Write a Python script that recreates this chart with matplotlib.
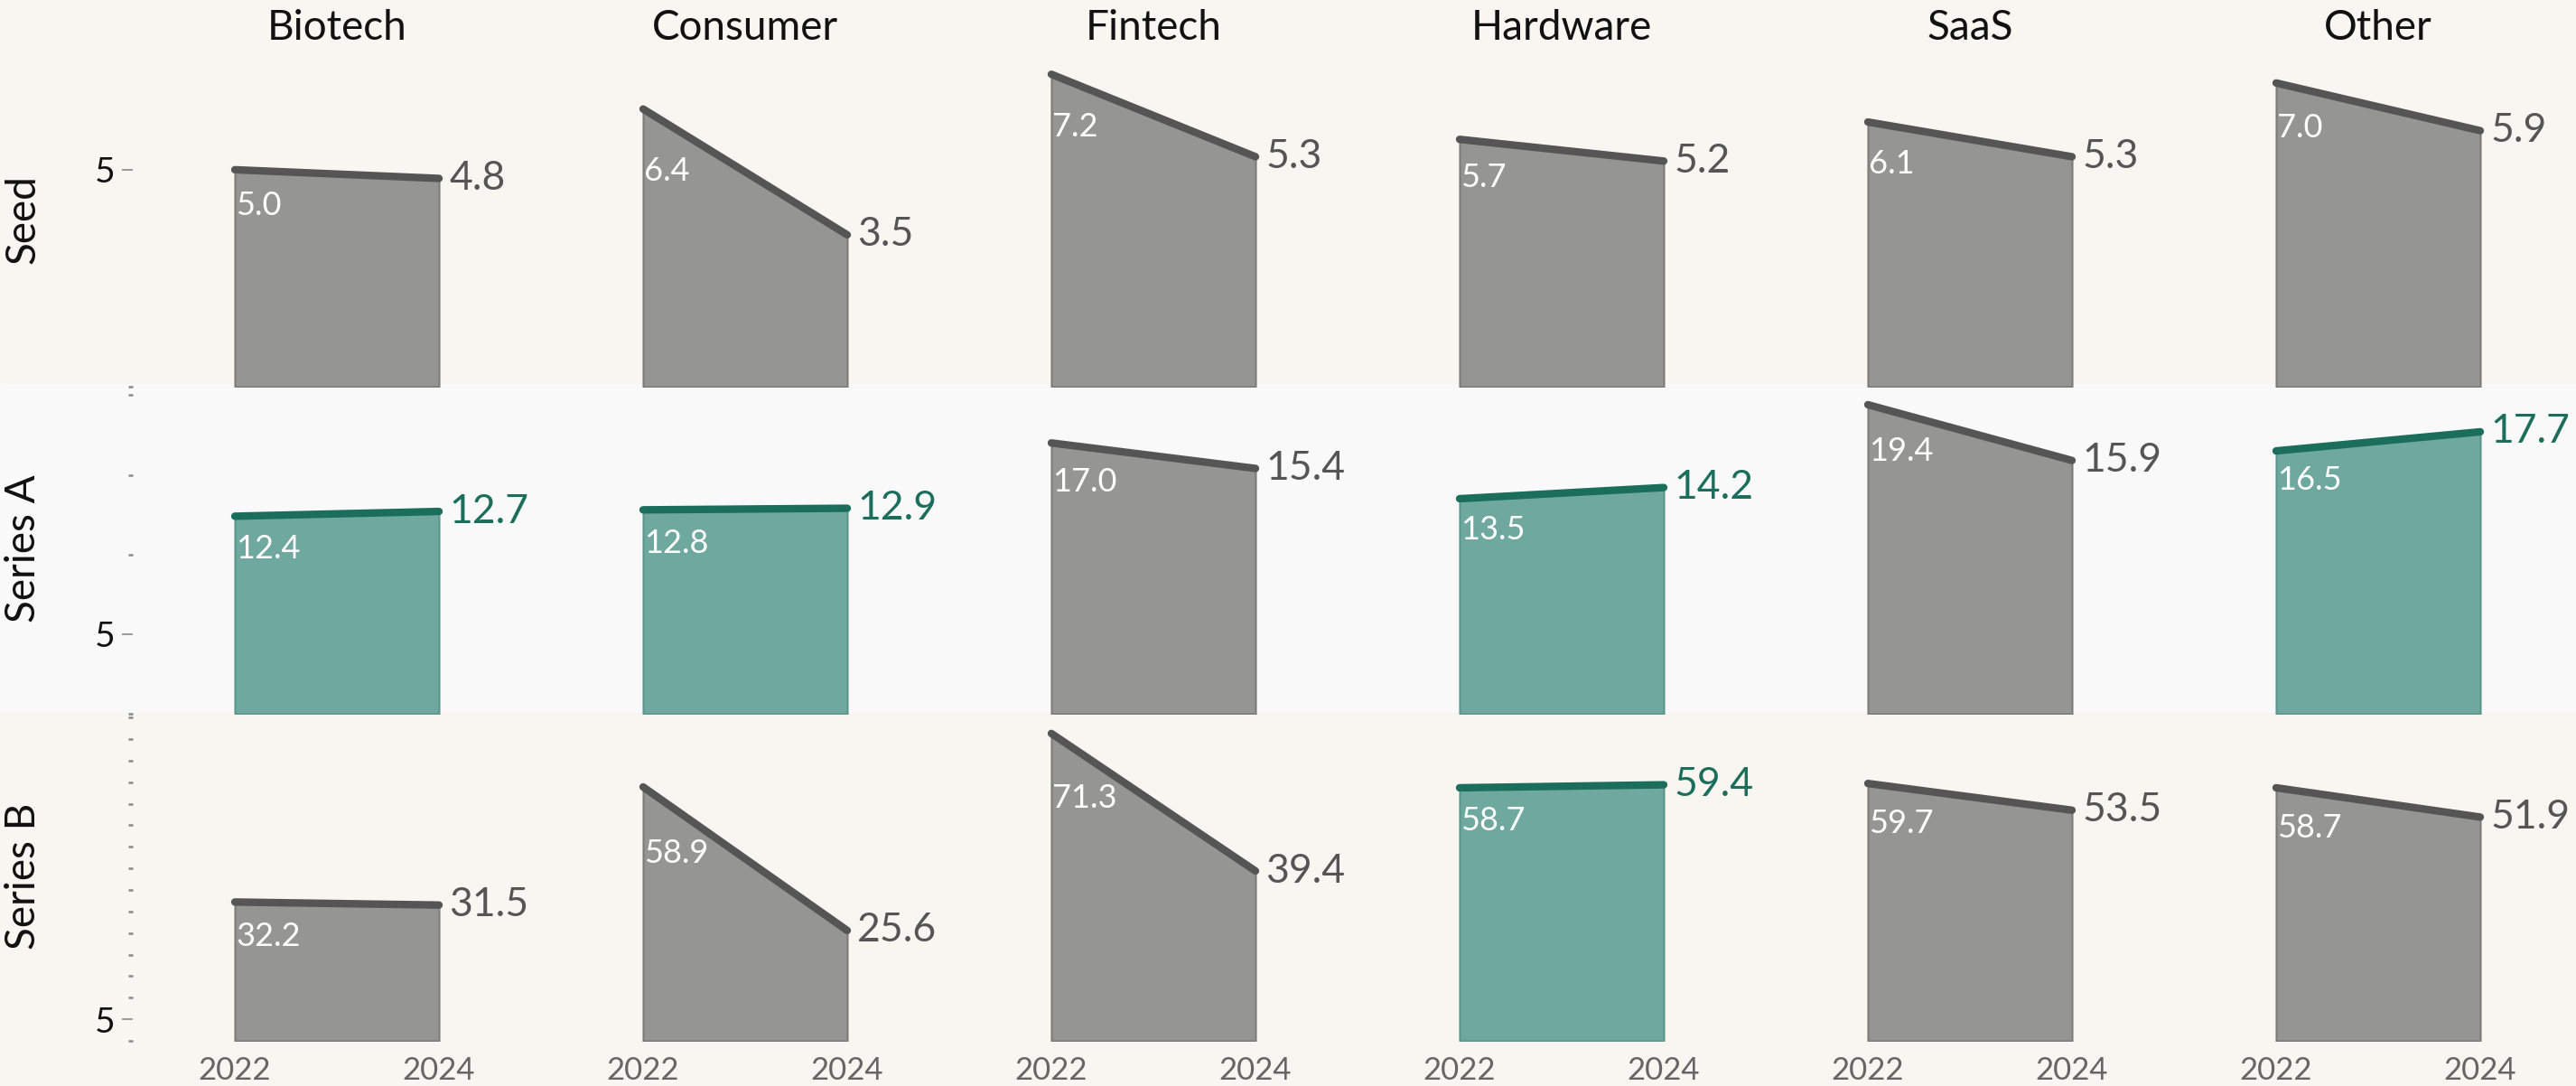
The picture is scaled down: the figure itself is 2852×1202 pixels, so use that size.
import numpy as np
import matplotlib.pyplot as plt
from matplotlib.patches import Rectangle
from matplotlib.ticker import FixedLocator

plt.rcParams['font.family'] = ['Lato', 'DejaVu Sans']

sectors = ['Biotech', 'Consumer', 'Fintech', 'Hardware', 'SaaS', 'Other']
stages = ['Seed', 'Series A', 'Series B']
years = [2022, 2024]

seed_2022 = [5.0, 6.4, 7.2, 5.7, 6.1, 7.0]
seed_2024 = [4.8, 3.5, 5.3, 5.2, 5.3, 5.9]
series_a_2022 = [12.4, 12.8, 17.0, 13.5, 19.4, 16.5]
series_a_2024 = [12.7, 12.9, 15.4, 14.2, 15.9, 17.7]
series_b_2022 = [32.2, 58.9, 71.3, 58.7, 59.7, 58.7]
series_b_2024 = [31.5, 25.6, 39.4, 59.4, 53.5, 51.9]

rows = [(seed_2022, seed_2024), (series_a_2022, series_a_2024),
        (series_b_2022, series_b_2024)]

W, H = 2852, 1202
# pixel layout: axes (top, bottom) and row background bands
axes_px = [(58, 428), (424, 790), (788, 1152)]
band_px = [(0, 425), (425, 789), (789, 1202)]
band_colors = ['#f9f5f1', '#f9f9f9', '#f9f5f1']
left0, col_w = 147, 452

grey_fill, grey_edge, grey_line = '#959591', '#7b7b79', '#555555'
teal_fill, teal_edge, teal_line = '#6ea89e', '#5a968b', '#1b6d5c'

fig = plt.figure(figsize=(W / 100, H / 100), dpi=100)
fig.patch.set_facecolor(band_colors[0])
for (t, b), c in zip(band_px, band_colors):
    fig.patches.append(Rectangle((0, 1 - b / H), 1, (b - t) / H,
                                 transform=fig.transFigure, color=c,
                                 zorder=-10))

for r, (v22, v24) in enumerate(rows):
    top = max(v22) * 1.07
    t, b = axes_px[r]
    for c in range(len(sectors)):
        ax = fig.add_axes([(left0 + c * col_w) / W, 1 - b / H,
                           col_w / W, (b - t) / H])
        ax.set_facecolor('none')
        a, z = v22[c], v24[c]
        up = z > a
        fill = teal_fill if up else grey_fill
        edge = teal_edge if up else grey_edge
        line = teal_line if up else grey_line
        ax.fill_between(years, [a, z], 0, facecolor=fill, edgecolor=edge,
                        lw=1.5)
        ax.plot(years, [a, z], color=line, lw=6, solid_capstyle='round',
                clip_on=False)
        ax.annotate(f'{z:.1f}', (2024, z), xytext=(8, 0),
                    textcoords='offset points', ha='left', va='center',
                    fontsize=32, color=line)
        y_lab = a + (z - a) * 0.225
        ax.annotate(f'{a:.1f}', (2022, y_lab), xytext=(1, -15),
                    textcoords='offset points', ha='left', va='top',
                    fontsize=26, color='white')
        ax.set_xlim(2021, 2025)
        ax.set_ylim(0, top)
        for s in ax.spines.values():
            s.set_visible(False)
        if c == 0:
            ax.set_yticks([5])
            ax.set_yticklabels(['5'])
            ax.yaxis.set_minor_locator(
                FixedLocator([m for m in np.arange(0, top, 5) if m != 5]))
            ax.tick_params(axis='y', which='major', length=9, width=1.2,
                           color='#8a8a8a', pad=5, labelsize=28,
                           labelcolor='#111111')
            ax.tick_params(axis='y', which='minor', length=3.5, width=1.8,
                           color='#8a8a8a')
        else:
            ax.set_yticks([])
        if r == len(rows) - 1:
            ax.set_xticks(years)
            ax.set_xticklabels([str(y) for y in years])
            ax.tick_params(axis='x', length=0, pad=12, labelsize=25,
                           labelcolor='#666666')
        else:
            ax.set_xticks([])
        if r == 0:
            fig.text((left0 + c * col_w + col_w / 2) / W, 1 - 31 / H,
                     sectors[c], ha='center', va='center', fontsize=33,
                     color='#111111')
    fig.text(26 / W, 1 - (t + b) / 2 / H, stages[r], rotation=90,
             ha='center', va='center', fontsize=33, color='#111111')

fig.savefig('out.png', dpi=100, facecolor=fig.get_facecolor())
